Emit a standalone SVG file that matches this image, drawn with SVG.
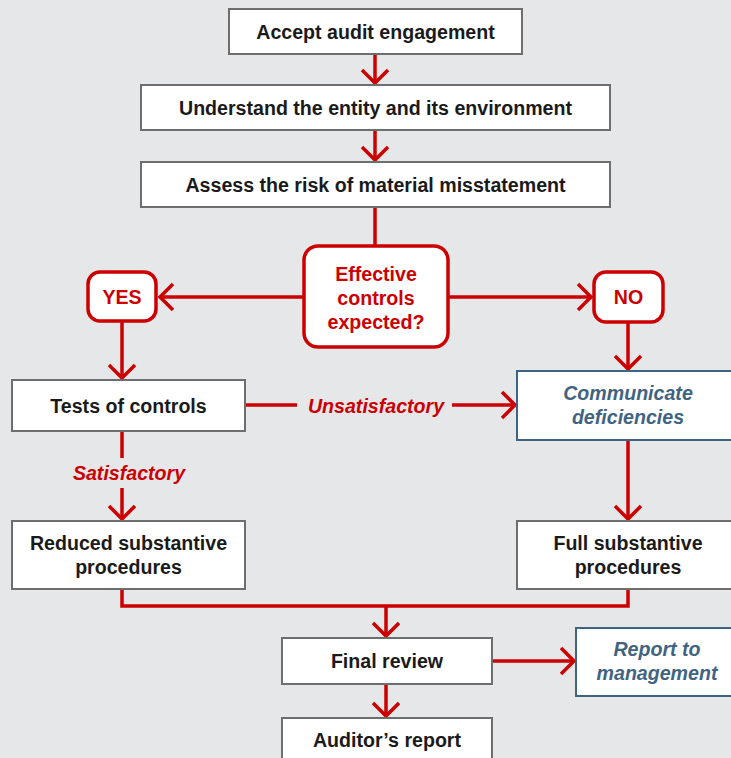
<svg xmlns="http://www.w3.org/2000/svg" width="731" height="758" viewBox="0 0 731 758">
<style>
.bg{fill:#e6e7e9}
.box{fill:#fff;stroke:#6e6e6e;stroke-width:2}
.bbox{fill:#fff;stroke:#3f6482;stroke-width:2}
.rbox{fill:#fff;stroke:#cc0000;stroke-width:3.5}
.t{font-family:"Liberation Sans",Arial,sans-serif;font-weight:bold;font-size:19.6px;fill:#1a1a1a;text-anchor:middle;dominant-baseline:central}
.rt{font-family:"Liberation Sans",Arial,sans-serif;font-weight:bold;font-size:19.6px;fill:#cc0000;text-anchor:middle;dominant-baseline:central}
.it{font-family:"Liberation Sans",Arial,sans-serif;font-weight:bold;font-style:italic;font-size:19.6px;text-anchor:middle;dominant-baseline:central}
.red{fill:#cc0000}
.blue{fill:#3f6482}
.c{fill:none;stroke:#cc0000;stroke-width:3.5}
</style>
<defs>
<marker id="ah" markerUnits="userSpaceOnUse" viewBox="-16 -16 20 32" refX="0" refY="0" markerWidth="20" markerHeight="32" orient="auto">
<path d="M-13,-13 L0,0 L-13,13" fill="none" stroke="#cc0000" stroke-width="3.5" stroke-linejoin="miter"/>
</marker>
</defs>
<rect class="bg" x="0" y="0" width="731" height="758"/>
<g id="connectors">
<line class="c" x1="375" y1="54" x2="375" y2="83" marker-end="url(#ah)"/>
<line class="c" x1="375" y1="130" x2="375" y2="160" marker-end="url(#ah)"/>
<line class="c" x1="375" y1="207" x2="375" y2="245"/>
<line class="c" x1="303" y1="297" x2="160" y2="297" marker-end="url(#ah)"/>
<line class="c" x1="449" y1="297" x2="591" y2="297" marker-end="url(#ah)"/>
<line class="c" x1="122" y1="322" x2="122" y2="378" marker-end="url(#ah)"/>
<line class="c" x1="628" y1="323" x2="628" y2="369" marker-end="url(#ah)"/>
<line class="c" x1="245" y1="405" x2="297" y2="405"/>
<line class="c" x1="452" y1="405" x2="515" y2="405" marker-end="url(#ah)"/>
<line class="c" x1="122" y1="431" x2="122" y2="458"/>
<line class="c" x1="122" y1="488" x2="122" y2="519" marker-end="url(#ah)"/>
<line class="c" x1="628" y1="440" x2="628" y2="519" marker-end="url(#ah)"/>
<polyline class="c" points="122,589 122,606 628,606 628,589"/>
<line class="c" x1="386" y1="606" x2="386" y2="636" marker-end="url(#ah)"/>
<line class="c" x1="492" y1="661" x2="574" y2="661" marker-end="url(#ah)"/>
<line class="c" x1="386" y1="684" x2="386" y2="716" marker-end="url(#ah)"/>
<text class="it red" x="376" y="406">Unsatisfactory</text>
<text class="it red" x="129" y="473">Satisfactory</text>
</g>
<g id="n1"><rect class="box" x="229" y="9" width="293" height="45"/><text class="t" x="375.5" y="31.5">Accept audit engagement</text></g>
<g id="n2"><rect class="box" x="141" y="85" width="469" height="45"/><text class="t" x="375.5" y="107.5">Understand the entity and its environment</text></g>
<g id="n3"><rect class="box" x="141" y="162" width="469" height="45"/><text class="t" x="375.5" y="184.5">Assess the risk of material misstatement</text></g>
<g id="decision"><rect class="rbox" x="304" y="246" width="144" height="101" rx="14"/><text class="rt" x="376" y="274">Effective</text><text class="rt" x="376" y="298">controls</text><text class="rt" x="376" y="322">expected?</text></g>
<g id="yes"><rect class="rbox" x="88" y="272" width="68" height="49" rx="12"/><text class="rt" x="122" y="297">YES</text></g>
<g id="no"><rect class="rbox" x="594" y="272" width="69" height="50" rx="12"/><text class="rt" x="628.5" y="297">NO</text></g>
<g id="tests"><rect class="box" x="12" y="380" width="233" height="51"/><text class="t" x="128.5" y="405.5">Tests of controls</text></g>
<g id="communicate"><rect class="bbox" x="517" y="371" width="222" height="69"/><text class="it blue" x="628" y="393">Communicate</text><text class="it blue" x="628" y="417">deficiencies</text></g>
<g id="reduced"><rect class="box" x="12" y="521" width="233" height="68"/><text class="t" x="128.5" y="543">Reduced substantive</text><text class="t" x="128.5" y="567">procedures</text></g>
<g id="full"><rect class="box" x="517" y="521" width="222" height="68"/><text class="t" x="628" y="543">Full substantive</text><text class="t" x="628" y="567">procedures</text></g>
<g id="final"><rect class="box" x="282" y="638" width="210" height="46"/><text class="t" x="387" y="661">Final review</text></g>
<g id="report"><rect class="bbox" x="576" y="628" width="164" height="68"/><text class="it blue" x="657" y="649">Report to</text><text class="it blue" x="657" y="673">management</text></g>
<g id="auditor"><rect class="box" x="282" y="718" width="210" height="50"/><text class="t" x="387" y="740">Auditor’s report</text></g>
</svg>
